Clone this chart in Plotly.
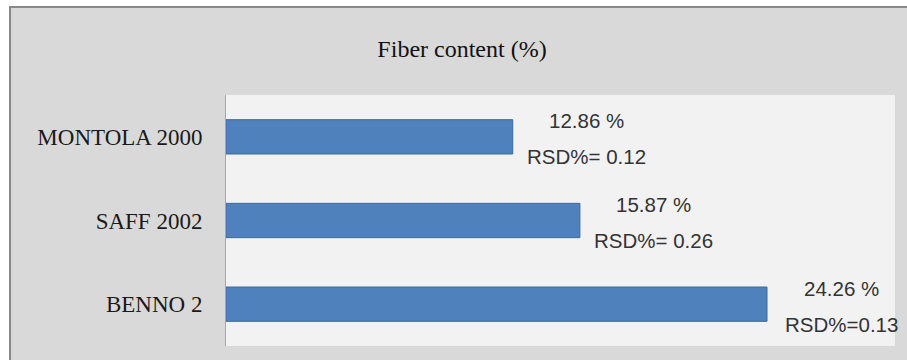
import plotly.graph_objects as go

categories = ["MONTOLA 2000", "SAFF 2002", "BENNO 2"]
fiber_values = [12.86, 15.87, 24.26]
value_labels = ["12.86 %", "15.87 %", "24.26 %"]
rsd_labels = ["RSD%= 0.12", "RSD%= 0.26", "RSD%=0.13"]

W, H = 907, 360
L, R, T, B = 226, 12, 95, 14
pw, ph = W - L - R, H - T - B

def px_to_paper_x(px):
    return (px - L) / pw

def py_to_paper_y(py):
    return 1 - (py - T) / ph

fig = go.Figure()
fig.add_trace(go.Bar(
    x=fiber_values, y=categories, orientation="h",
    width=0.41,
    marker=dict(color="#4f81bd", line=dict(color="#3b6aa0", width=1)),
    hoverinfo="skip",
))

label_font = dict(family="Liberation Sans, Arial", size=20.5, color="#333333")
annotations = []
for cat, v, vl, rl in zip(categories, fiber_values, value_labels, rsd_labels):
    annotations.append(dict(x=v, y=cat, xref="x", yref="y", text=vl, showarrow=False,
                            xanchor="center", yanchor="middle", xshift=74, yshift=16,
                            font=label_font))
    annotations.append(dict(x=v, y=cat, xref="x", yref="y", text=rl, showarrow=False,
                            xanchor="center", yanchor="middle", xshift=74, yshift=-20,
                            font=label_font))

shapes = [
    # outer chart area
    dict(type="rect", xref="paper", yref="paper",
         x0=px_to_paper_x(10), x1=px_to_paper_x(W + 10),
         y0=py_to_paper_y(H + 10), y1=py_to_paper_y(7),
         fillcolor="#d9d9d9", line=dict(color="#8a8a8a", width=2), layer="below"),
    # plot area
    dict(type="rect", xref="paper", yref="paper", x0=0, x1=1, y0=0, y1=1,
         fillcolor="#f2f2f2", line=dict(width=0), layer="below"),
]

fig.update_layout(
    width=W, height=H,
    margin=dict(l=L, r=R, t=T, b=B),
    paper_bgcolor="white",
    plot_bgcolor="rgba(0,0,0,0)",
    showlegend=False,
    title=dict(text="Fiber content (%)", xref="paper", x=px_to_paper_x(462), xanchor="center",
               yref="container", y=1 - 49 / H, yanchor="middle",
               font=dict(family="Liberation Serif, Times New Roman, serif", size=24, color="#111111")),
    xaxis=dict(range=[0, 30], visible=False, fixedrange=True),
    yaxis=dict(categoryorder="array", categoryarray=categories[::-1],
               range=[-0.5, 2.5], showgrid=False, zeroline=False,
               showline=True, linecolor="#a6a6a6", linewidth=1,
               ticks="", ticklabelstandoff=18,
               tickfont=dict(family="Liberation Serif, Times New Roman, serif", size=23, color="#1a1a1a")),
    annotations=annotations,
    shapes=shapes,
)

fig.write_html("out.html")
